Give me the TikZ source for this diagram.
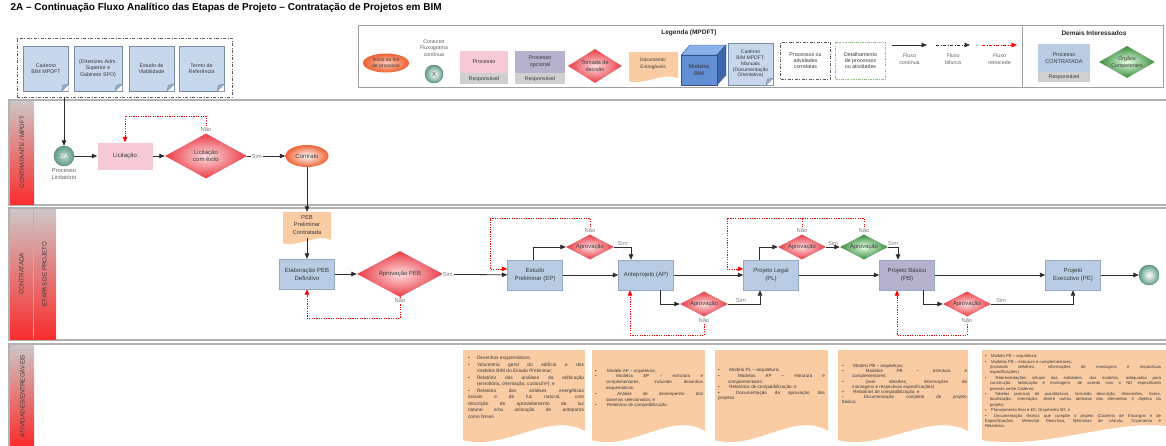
\documentclass[tikz,border=0pt]{standalone}
\usepackage{fontspec}
\setmainfont{Liberation Sans}
\usepackage{tikz}
\usetikzlibrary{calc,positioning,shapes.geometric,arrows.meta}

\definecolor{procblue}{RGB}{185,204,228}
\definecolor{procline}{RGB}{150,170,198}
\definecolor{procpurple}{RGB}{182,178,205}
\definecolor{procpink}{RGB}{246,202,212}
\definecolor{respgray}{RGB}{208,208,208}
\definecolor{decred}{RGB}{234,58,68}
\definecolor{decpink}{RGB}{252,222,225}
\definecolor{decgreen}{RGB}{58,138,62}
\definecolor{docorange}{RGB}{250,204,164}
\definecolor{notefill}{RGB}{200,216,236}
\definecolor{noteline}{RGB}{118,138,168}
\definecolor{notefold}{RGB}{150,172,205}
\definecolor{conteal}{RGB}{98,158,138}
\definecolor{startorange}{RGB}{238,98,52}
\definecolor{lanegray}{RGB}{178,178,178}
\definecolor{lanered}{RGB}{250,45,45}
\definecolor{lanetop}{RGB}{206,198,198}
\definecolor{legline}{RGB}{160,160,160}
\definecolor{corrgray}{RGB}{90,90,90}
\definecolor{detgreen}{RGB}{140,196,124}
\definecolor{flowgray}{RGB}{45,45,45}
\definecolor{txtgray}{RGB}{58,58,58}
\definecolor{cubefront}{RGB}{98,142,212}
\definecolor{cubetop}{RGB}{138,176,232}
\definecolor{cubeside}{RGB}{62,102,172}
\definecolor{cubeline}{RGB}{50,80,140}

% documento com base ondulada: x1,y1,x2,y2,cor
\newcommand{\wavedoc}[5]{%
  \fill[#5] (#1,#2) -- (#3,#2) -- (#3,{#4-0.12*(#4-#2)})
    .. controls ({#1+0.7*(#3-#1)},{#4-0.34*(#4-#2)}) and ({#1+0.35*(#3-#1)},{#4+0.1*(#4-#2)})
    .. (#1,{#4-0.02*(#4-#2)}) -- cycle;}
% canto dobrado das notas
\newcommand{\foldcorner}[1]{%
  \fill[white] ($(#1.south east)+(-7,0)$) -- (#1.south east) -- ($(#1.south east)+(0,-7)$) -- cycle;
  \filldraw[fill=notefold, draw=noteline, line width=0.4pt] ($(#1.south east)+(-7,0)$) -- ($(#1.south east)+(-6,-6)$) -- ($(#1.south east)+(0,-7)$) -- cycle;}
% marcador das listas
\newcommand{\bul}[1][9pt]{\par\noindent\hangindent=#1\hangafter=1\makebox[#1][l]{\textbullet}}

\tikzset{
  lane/.style={draw=lanegray, line width=1.2pt},
  lanetext/.style={rotate=90, font=\fontsize{6.2}{7}\selectfont, text=txtgray, inner sep=0pt},
  flow/.style={draw=flowgray, line width=0.8pt, -{Triangle[length=5.5pt,width=4.5pt]}},
  back/.style={draw=red, line width=0.8pt, dash pattern=on 1.2pt off 1.2pt, -{Triangle[length=5.5pt,width=4.5pt]}},
  backline/.style={draw=red, line width=0.8pt, dash pattern=on 1.2pt off 1.2pt},
  procbox/.style={rectangle, fill=procblue, draw=procline, line width=0.4pt, minimum width=55pt, minimum height=30pt, inner sep=1pt, align=center, text=txtgray, font=\fontsize{6}{8}\selectfont},
  decision/.style={diamond, aspect=2, inner sep=0pt, minimum width=48pt, minimum height=25pt, inner color=decpink, outer color=decred, align=center, text=txtgray, font=\fontsize{5.8}{7}\selectfont},
  greendec/.style={decision, inner color=green!12, outer color=decgreen},
  startend/.style={ellipse, inner sep=0pt, inner color=white, outer color=startorange, align=center, text=txtgray},
  connector/.style={circle, inner sep=0pt, inner color=white, outer color=conteal, draw=conteal!80!black, line width=0.4pt, text=txtgray},
  notebox/.style={rectangle, fill=notefill, draw=noteline, line width=0.4pt, minimum width=45pt, minimum height=45pt, inner sep=1pt, align=center, text=txtgray, font=\fontsize{5.3}{6.3}\selectfont},
  corrbox/.style={draw=corrgray, line width=0.9pt, dash pattern=on 3pt off 1.5pt on 1pt off 1.5pt, inner sep=0pt, align=center, text=txtgray, font=\fontsize{5.3}{6.3}\selectfont},
  detbox/.style={draw=detgreen, line width=0.8pt, dash pattern=on 2.5pt off 1.2pt on 0.8pt off 1.2pt, inner sep=0pt, align=center, text=txtgray, font=\fontsize{5.3}{6.3}\selectfont},
  respbox/.style={fill=respgray, minimum width=48pt, minimum height=11pt, inner sep=0pt, text=txtgray, font=\fontsize{5.3}{6}\selectfont},
  smalltxt/.style={align=center, inner sep=0pt, text=txtgray!80, font=\fontsize{5.3}{6.3}\selectfont},
  yn/.style={font=\fontsize{5.8}{6}\selectfont, text=gray, inner sep=1pt, fill=white},
  entrega/.style={anchor=north, align=justify, inner sep=0pt, text=txtgray, execute at begin node={\tolerance=9999\hbadness=10000}}
}

\begin{document}
\begin{tikzpicture}[x=1pt,y=1pt,yscale=-1,xscale=1]
\useasboundingbox (0,0) rectangle (1166,445);

% Text Node
\node[anchor=west, font=\bfseries\fontsize{10}{12}\selectfont] (title) at (7,8) {2A – Continuação Fluxo Analítico das Etapas de Projeto – Contratação de Projetos em BIM};

%Shape: Lanes
\draw[lane] (9,100) rectangle (1175,205);
\shade[top color=lanetop, bottom color=lanered] (10,101) rectangle (34,204);
\node[lanetext] (lane1) at (22,152) {CONTRATANTE / MPDFT};
\draw[lane] (9,208) rectangle (1175,340);
\shade[top color=lanetop, bottom color=lanered] (10,209) rectangle (33,339);
\shade[top color=lanetop, bottom color=lanered] (33,209) rectangle (56,339);
\draw[lanegray, line width=0.6pt] (33,209) -- (33,339);
\node[lanetext] (lane2a) at (21.5,274) {CONTRATADA};
\node[lanetext] (lane2b) at (44.5,274) {ETAPAS DE PROJETO};
\draw[lane] (9,344) rectangle (1175,452);
\shade[top color=lanetop, bottom color=lanered] (10,345) rectangle (34,445);
\node[lanetext] (lane3) at (22,396) {ATIVIDADES/ENTREGÁVEIS};

%Shape: Documentos de entrada
\node[corrbox, minimum width=215pt, minimum height=59pt] (docsbox) at (124.5,67.5) {};
\node[notebox] (cad) at (46,68.5) {Caderno\\BIM MPDFT};
\node[notebox, minimum width=48pt] (dir) at (98,68.5) {(Diretrizes Adm.\\Superior e\\Gabinete SPO)};
\node[notebox] (evt) at (151.5,68.5) {Estudo de\\Viabilidade};
\node[notebox] (tr) at (201.5,68.5) {Termo de\\Referência};
\foldcorner{cad} \foldcorner{dir} \foldcorner{evt} \foldcorner{tr}

%Shape: Legenda
\draw[legline, line width=1pt] (358,25) rectangle (1163,87);
\draw[legline, line width=1pt] (1022,25) -- (1022,87);
\node[font=\bfseries\fontsize{6.5}{8}\selectfont, text=black!85] (legtitle) at (689,33) {Legenda (MPDFT)};
\node[startend, inner color=startorange!35, minimum width=46pt, minimum height=19pt, font=\fontsize{5}{6}\selectfont] (legini) at (386,63) {Início ou fim\\de processo};
\node[smalltxt] (legconlbl) at (434,48) {Conector\\Fluxograma\\contínua};
\node[connector, minimum size=18pt, font=\fontsize{6}{7}\selectfont] (legcon) at (434,74) {X};
\node[fill=procpink, minimum width=48pt, minimum height=22pt, inner sep=0pt, text=txtgray, font=\fontsize{5.5}{6.5}\selectfont] (legproc) at (484,62) {Processo};
\node[respbox, below=0pt of legproc] (legresp1) {Responsável};
\node[fill=procpurple, minimum width=50pt, minimum height=22pt, inner sep=0pt, align=center, text=txtgray, font=\fontsize{5.5}{6.8}\selectfont] (legopc) at (540,62) {Processo\\opcional};
\node[respbox, minimum width=50pt, below=0pt of legopc] (legresp2) {Responsável};
\node[decision, minimum width=54pt, minimum height=34pt, font=\fontsize{5.5}{6.8}\selectfont] (legdec) at (595,66) {Tomada de\\decisão};
\wavedoc{629}{52}{678}{82}{docorange}
\node[smalltxt, text=txtgray, font=\fontsize{4.8}{7}\selectfont] (legdoc) at (653,64) {Documento/\\Entregáveis};
%Shape: Cube
\filldraw[fill=cubetop, draw=cubeline, line width=0.4pt] (681,55) -- (690,45) -- (726,45) -- (717,55) -- cycle;
\filldraw[fill=cubeside, draw=cubeline, line width=0.4pt] (717,55) -- (726,45) -- (726,75) -- (717,85) -- cycle;
\filldraw[fill=cubefront, draw=cubeline, line width=0.4pt] (681,55) rectangle (717,85);
\node[smalltxt, text=black!80, font=\fontsize{5.5}{6.8}\selectfont] (legbim) at (699,70) {Modelos\\BIM};
\node[notebox, minimum height=42pt, font=\fontsize{5}{5.8}\selectfont] (legcad) at (750.5,64) {Caderno\\BIM MPDFT;\\Manuais\\(Documentação\\Orientativa)};
\foldcorner{legcad}
\node[corrbox, minimum width=50pt, minimum height=37pt] (legcorr) at (805.5,60.5) {Processos ou\\atividades\\correlatas};
\node[detbox, minimum width=50pt, minimum height=37pt] (legdet) at (860.5,60.5) {Detalhamento\\de processos\\ou atividades};
\coordinate (fc1) at (892,45); \coordinate (fc2) at (927,45);
\coordinate (fb1) at (936,45); \coordinate (fb2) at (970,45);
\coordinate (fr1) at (982,45); \coordinate (fr2) at (1017,45);
\draw[flow] (fc1) -- (fc2);
\draw[flow, dash pattern=on 3pt off 1.5pt on 1pt off 1.5pt] (fb1) -- (fb2);
\draw[back, dash pattern=on 3pt off 1.5pt on 1pt off 1.5pt] (fr1) -- (fr2);
\node[smalltxt] (legfc) at (909.5,59) {Fluxo\\contínua};
\node[smalltxt] (legfb) at (953,59) {Fluxo\\bifurca};
\node[smalltxt] (legfr) at (999.5,59) {Fluxo\\retrocede};
\node[font=\bfseries\fontsize{6.5}{8}\selectfont, text=black!85] (legdemais) at (1094,33) {Demais Interessados};
\node[fill=procblue, minimum width=52pt, minimum height=28pt, inner sep=0pt, align=center, text=txtgray, font=\fontsize{5.5}{7}\selectfont] (legcontr) at (1064,58) {Processo\\CONTRATADA};
\node[respbox, minimum width=52pt, minimum height=10pt, below=0pt of legcontr] (legresp3) {Responsável};
\node[greendec, minimum width=54pt, minimum height=32pt, font=\fontsize{5.3}{6.5}\selectfont] (legorg) at (1127,62) {Órgãos\\Competentes};

%Contratante
\node[connector, inner color=conteal!45, minimum size=20pt, text=white, font=\fontsize{6.5}{7}\selectfont] (c2a) at (64,156) {2A};
\node[smalltxt, below=2pt of c2a, font=\fontsize{5.8}{7}\selectfont] (c2alabel) {Processo\\Licitatório};
\node[rectangle, fill=procpink, minimum width=55pt, minimum height=27pt, text=txtgray, font=\fontsize{6}{7}\selectfont] (lic) at (125,156) {Licitação};
\node[decision, minimum width=82pt, minimum height=45pt, font=\fontsize{6}{7.5}\selectfont] (licok) at (206,156) {Licitação\\com êxito};
\node[startend, minimum width=43pt, minimum height=22pt, font=\fontsize{6}{7}\selectfont] (contrato) at (307,156) {Contrato};

%Contratada
\wavedoc{283}{212}{331}{244}{docorange}
\node[rectangle, minimum width=48pt, minimum height=26pt, inner sep=0pt, align=center, text=txtgray, font=\fontsize{5.8}{7.5}\selectfont] (peb) at (307,225) {PEB\\Preliminar\\Contratada};
\node[procbox] (elab) at (307,274) {Elaboração PEB\\Definitivo};
\node[decision, minimum width=86pt, minimum height=46pt, font=\fontsize{6}{7}\selectfont] (aprpeb) at (400,274) {Aprovação PEB};
\node[procbox] (ep) at (535,275) {Estudo\\Preliminar (EP)};
\node[decision] (apr1) at (590,247) {Aprovação};
\node[procbox] (ap) at (646,275) {Anteprojeto (AP)};
\node[decision] (apr2) at (704,304) {Aprovação};
\node[procbox] (pl) at (771,275) {Projeto Legal\\(PL)};
\node[decision] (apr3) at (802,247) {Aprovação};
\node[greendec] (apr4) at (864,247) {Aprovação};
\node[procbox, fill=procpurple] (pb) at (907,275) {Projeto Básico\\(PB)};
\node[decision] (apr5) at (967,304) {Aprovação};
\node[procbox] (pe) at (1073,275) {Projeto\\Executivo (PE)};
\node[connector, minimum size=20pt] (fim) at (1149,275) {};

\coordinate (r4) at (125,116);
\coordinate (r0) at (307,318);
\coordinate (r1) at (490,218);
\coordinate (r2) at (630,335);
\coordinate (r3) at (727,218);
\coordinate (r5) at (897,335);

%Straight Lines
\draw[flow] (c2a |- docsbox.south) -- (c2a.north);
\draw[flow] (c2a) -- (lic);
\draw[flow] (lic) -- (licok);
\draw[flow] (licok) -- (contrato) node[yn, pos=0.25] {Sim};
\draw[back] (licok.north) node[yn, above] {Não} |- (r4) -- (lic.north);
\draw[flow] (contrato) -- (peb);
\draw[flow] (peb) -- (elab);
\draw[flow] (elab) -- (aprpeb);
\draw[flow] (aprpeb) -- (ep) node[yn, pos=0.08] {Sim};
\draw[back] (aprpeb.south) node[yn, below] {Não} |- (r0) -- (elab.south);
\draw[flow] ([xshift=-2pt]ep.north) |- (apr1.west);
\draw[flow] (apr1.east) -| ([xshift=-15pt]ap.north) node[yn, pos=0.25, above, fill=none] {Sim};
\draw[back] (apr1.north) node[yn, above] {Não} |- (r1) |- ($(ep.north west)!0.3!(ep.south west)$);
\draw[flow] (ep) -- (ap);
\draw[flow] ([xshift=14pt]ap.south) |- (apr2.west);
\draw[flow] (apr2.east) -| ([xshift=-11pt]pl.south) node[yn, pos=0.2, above, fill=none] {Sim};
\draw[back] (apr2.south) node[yn, below] {Não} |- (r2) -- ([xshift=-16pt]ap.south);
\draw[flow] (ap) -- (pl);
\draw[flow] ([xshift=-12pt]pl.north) |- (apr3.west);
\draw[flow] (apr3) -- (apr4) node[yn, midway, above, fill=none] {Sim};
\draw[flow] (apr4.east) -| ([xshift=-9pt]pb.north) node[yn, pos=0.25, above, fill=none] {Sim};
\draw[backline] (apr3.north) node[yn, above] {Não} -- (apr3.north |- r3);
\draw[back] (apr4.north) node[yn, above] {Não} |- (r3) |- ($(pl.north west)!0.3!(pl.south west)$);
\draw[flow] (pl) -- (pb);
\draw[flow] ([xshift=16pt]pb.south) |- (apr5.west);
\draw[flow] (apr5.east) -| (pe.south) node[yn, pos=0.06, above, fill=none] {Sim};
\draw[back] (apr5.south) node[yn, below] {Não} |- (r5) -- ([xshift=-10pt]pb.south);
\draw[flow] (pb) -- (pe);
\draw[flow] (pe) -- (fim);

%Shape: Entregaveis
\wavedoc{463}{350}{585}{442}{docorange}
\wavedoc{592}{350}{705}{442}{docorange}
\wavedoc{715}{350}{828}{442}{docorange}
\wavedoc{838}{350}{968}{442}{docorange}
\wavedoc{982}{350}{1190}{442}{docorange}

% Text Node
\node[entrega, text width=116pt, font=\fontsize{4.8}{6.5}\selectfont] (ent1) at (526,353) {%
\bul Desenhos esquemáticos;
\bul Volumetria geral do edifício e dos\linebreak modelos BIM do Estudo Preliminar;
\bul Relatório das análises da edificação\linebreak (envoltória, orientação, custos/m²); e
\bul Relatório das análises energéticas\linebreak iniciais e de luz natural, com\linebreak descrição de aproveitamento da luz\linebreak natural e/ou utilização de anteparos\linebreak como brises.};
% Text Node
\node[entrega, text width=108pt, font=\fontsize{4.4}{5.8}\selectfont] (ent2) at (649,366) {%
\bul[11pt] Modelo AP – arquitetura;
\bul[11pt] Modelos EP – estrutura e\linebreak complementares, incluindo desenhos\linebreak esquemáticos;
\bul[11pt] Análise de desempenho dos\linebreak sistemas selecionados; e
\bul[11pt] Relatórios de compatibilização.};
% Text Node
\node[entrega, text width=107pt, font=\fontsize{4.6}{5.6}\selectfont] (ent3) at (771.5,366) {%
\bul[10pt] Modelo PL – arquitetura;
\bul[10pt] Modelos AP – estrutura e\linebreak complementares;
\bul[10pt] Relatórios de compatibilização; e
\bul[10pt] Documentação de aprovação dos\linebreak projetos.};
% Text Node
\node[entrega, text width=125pt, font=\fontsize{4.5}{5.2}\selectfont] (ent4) at (904.5,362) {%
\bul[10pt] Modelo PB – arquitetura;
\bul[10pt] Modelos PB – estrutura e\linebreak complementares;
\bul[10pt] (sem detalhes, informações de\linebreak montagens e respectivas especificações)
\bul[10pt] Relatórios de compatibilização; e
\bul[10pt] Documentação completa de projeto\linebreak básico;};
% Text Node
\node[entrega, text width=176pt, font=\fontsize{4.2}{5.4}\selectfont] (ent5) at (1073,352) {%
\bul[5pt] Modelo PE – arquitetura;
\bul[5pt] Modelos PE – estrutura e complementares;\\(incluindo detalhes, informações de montagens e respectivas\linebreak especificações)
\bul[5pt] Representações virtuais das entidades, dos modelos, adequadas para\linebreak construção, fabricação e montagem, de acordo com o ND especificado\linebreak previsto neste Caderno.
\bul[5pt] Tabelas precisas de quantitativos, incluindo descrição, dimensões, forma,\linebreak localização, orientação, dentre outros atributos dos elementos e objetos do\linebreak projeto;
\bul[5pt] Planejamento final e 4D; Orçamento 5D; e
\bul[5pt] Documentação técnica que compõe o projeto (Caderno de Encargos e de\linebreak Especificações, Memorial Descritivo, Memórias de cálculo, Orçamento e\linebreak Relatórios.};

\end{tikzpicture}
\end{document}
